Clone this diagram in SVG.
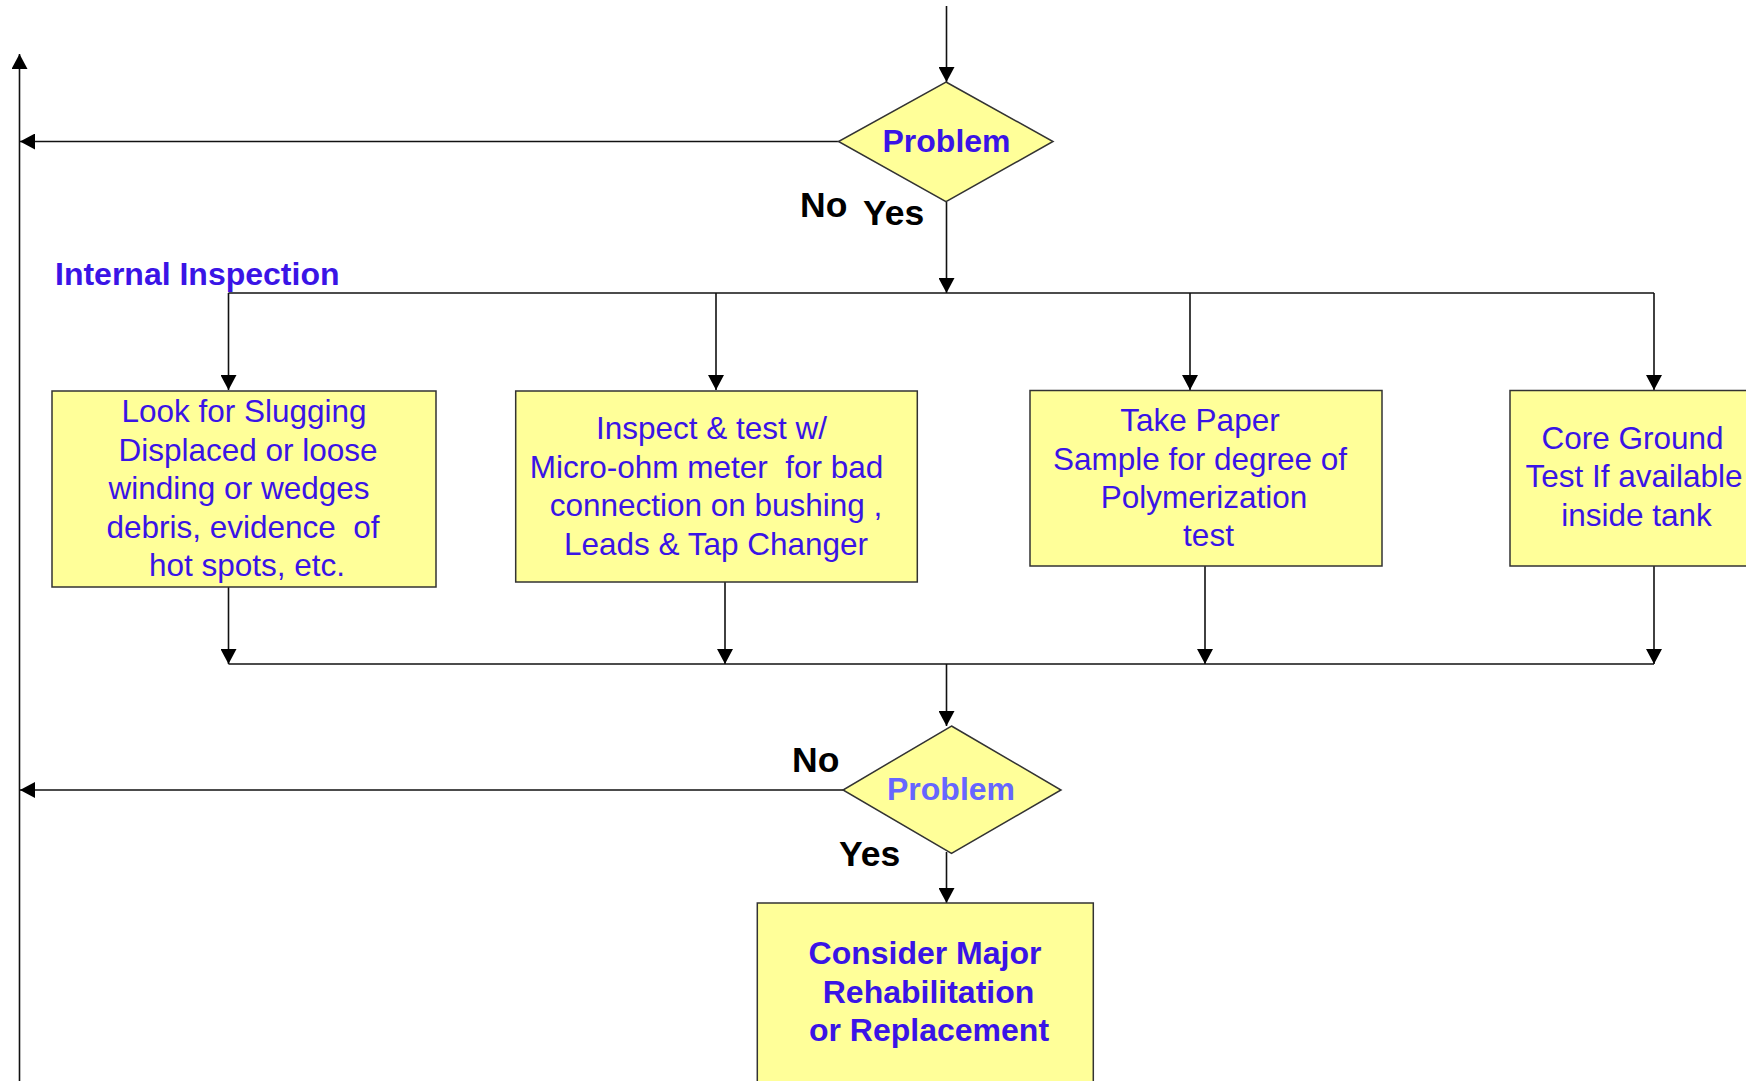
<svg xmlns="http://www.w3.org/2000/svg" width="1746" height="1081" viewBox="0 0 1746 1081">
<style>
.box{fill:#ffff99;stroke:#333;stroke-width:1.5}
.dia{fill:#ffff99;stroke:#333;stroke-width:1.5}
.ln{fill:none;stroke:#111;stroke-width:1.6}
.t{font-family:"Liberation Sans",Arial,sans-serif;font-size:31.5px;fill:#3a14e6;text-anchor:middle}
.tb{font-family:"Liberation Sans",Arial,sans-serif;font-size:32px;font-weight:bold;fill:#3a14e6;text-anchor:middle}
.lbl{font-family:"Liberation Sans",Arial,sans-serif;font-size:35.5px;font-weight:bold;fill:#000}
</style>
<defs>
<marker id="ah" markerUnits="userSpaceOnUse" markerWidth="16" markerHeight="16" refX="15" refY="8" orient="auto">
<path d="M0,0 L15,8 L0,16 z" fill="#000"/>
</marker>
</defs>
<rect width="1746" height="1081" fill="#fff"/>
<g id="connectors">
<line class="ln" x1="946.5" y1="6" x2="946.5" y2="82" marker-end="url(#ah)"/>
<line class="ln" x1="838.5" y1="141.5" x2="20" y2="141.5" marker-end="url(#ah)"/>
<line class="ln" x1="946.5" y1="202" x2="946.5" y2="293" marker-end="url(#ah)"/>
<line class="ln" x1="228.5" y1="293" x2="1654" y2="293"/>
<line class="ln" x1="228.5" y1="293" x2="228.5" y2="390" marker-end="url(#ah)"/>
<line class="ln" x1="716" y1="293" x2="716" y2="390" marker-end="url(#ah)"/>
<line class="ln" x1="1190" y1="293" x2="1190" y2="390" marker-end="url(#ah)"/>
<line class="ln" x1="1654" y1="293" x2="1654" y2="390" marker-end="url(#ah)"/>
<line class="ln" x1="228.5" y1="587" x2="228.5" y2="664" marker-end="url(#ah)"/>
<line class="ln" x1="725" y1="582" x2="725" y2="664" marker-end="url(#ah)"/>
<line class="ln" x1="1205" y1="566" x2="1205" y2="664" marker-end="url(#ah)"/>
<line class="ln" x1="1654" y1="566" x2="1654" y2="664" marker-end="url(#ah)"/>
<line class="ln" x1="228.5" y1="664" x2="1654" y2="664"/>
<line class="ln" x1="946.5" y1="664" x2="946.5" y2="726" marker-end="url(#ah)"/>
<line class="ln" x1="843" y1="790" x2="20" y2="790" marker-end="url(#ah)"/>
<line class="ln" x1="946.5" y1="852" x2="946.5" y2="903" marker-end="url(#ah)"/>
<line class="ln" x1="19.5" y1="1081" x2="19.5" y2="54" marker-end="url(#ah)"/>
</g>
<g id="decision1">
<polygon class="dia" points="946,82 1053,141.5 946,201.7 838.5,141.5"/>
<text class="tb" x="946.5" y="151.5">Problem</text>
<text class="lbl" x="800" y="217">No</text>
<text class="lbl" x="863" y="225">Yes</text>
</g>
<g id="label-internal">
<text class="tb" x="55" y="285" style="text-anchor:start">Internal Inspection</text>
</g>
<g id="box1">
<rect class="box" x="52" y="391" width="384" height="196"/>
<text class="t" x="244" y="422">Look for Slugging</text>
<text class="t" x="248" y="460.5">Displaced or loose</text>
<text class="t" x="239" y="499">winding or wedges</text>
<text class="t" x="243" y="537.5" xml:space="preserve">debris, evidence  of</text>
<text class="t" x="247" y="576">hot spots, etc.</text>
</g>
<g id="box2">
<rect class="box" x="515.7" y="391" width="401.6" height="191"/>
<text class="t" x="711.5" y="439">Inspect &amp; test w/</text>
<text class="t" x="706.5" y="477.5" xml:space="preserve">Micro-ohm meter  for bad</text>
<text class="t" x="716" y="516">connection on bushing ,</text>
<text class="t" x="716" y="554.5">Leads &amp; Tap Changer</text>
</g>
<g id="box3">
<rect class="box" x="1030" y="390.5" width="352" height="175.5"/>
<text class="t" x="1200" y="431">Take Paper</text>
<text class="t" x="1200" y="469.5">Sample for degree of</text>
<text class="t" x="1204" y="507.5">Polymerization</text>
<text class="t" x="1208.5" y="545.5">test</text>
</g>
<g id="box4">
<rect class="box" x="1510" y="390.5" width="250" height="175.5"/>
<text class="t" x="1632.5" y="448.5">Core Ground</text>
<text class="t" x="1634" y="487">Test If available</text>
<text class="t" x="1636.5" y="525.5">inside tank</text>
</g>
<g id="decision2">
<polygon class="dia" points="951.5,726 1061,790 951.5,853.5 843,790"/>
<text class="tb" x="951" y="800" style="fill:#6666ff">Problem</text>
<text class="lbl" x="792" y="772">No</text>
<text class="lbl" x="839" y="866">Yes</text>
</g>
<g id="box5">
<rect class="box" x="757.3" y="903" width="336" height="190"/>
<text class="tb" x="925" y="964">Consider Major</text>
<text class="tb" x="928.5" y="1002.5">Rehabilitation</text>
<text class="tb" x="929" y="1041">or Replacement</text>
</g>
</svg>
